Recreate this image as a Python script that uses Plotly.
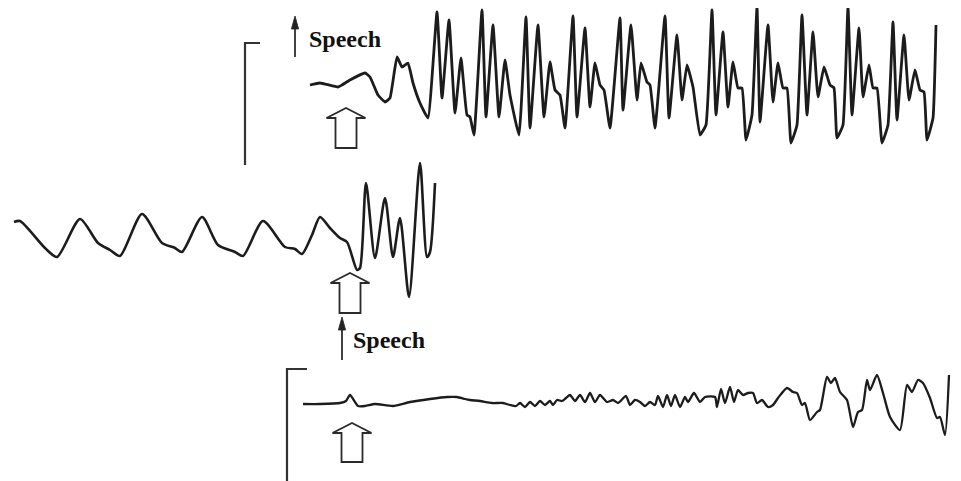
import plotly.graph_objects as go

# ---- Data (time in px-units, level in px-units, y down) ----
top_t = [310, 320, 338, 342, 350, 365, 370, 378, 385, 390,
         397, 402, 408, 413, 420, 428, 437, 442, 449, 455,
         461, 467, 470, 474, 482, 486, 493, 499, 505, 510,
         519, 526, 530, 538, 544, 550, 555, 560, 565, 573,
         577, 585, 590, 595, 600, 604, 610, 620, 623, 631,
         637, 641, 647, 650, 655, 665, 669, 677, 682, 687,
         693, 700, 706, 712, 716, 723, 728, 733, 738, 742,
         746, 752, 757, 760, 768, 773, 778, 783, 787, 791,
         797, 802, 807, 813, 818, 824, 830, 834, 837, 843,
         848, 852, 859, 863, 869, 873, 877, 882, 888, 893,
         897, 904, 909, 915, 920, 924, 927, 933, 936]
top_v = [85, 83, 87, 85, 80, 73, 77, 95, 102, 98,
         57, 67, 63, 83, 103, 118, 12, 98, 20, 113,
         58, 115, 117, 135, 10, 117, 25, 117, 60, 95,
         135, 17, 128, 25, 117, 62, 90, 95, 128, 16,
         117, 28, 107, 63, 85, 90, 128, 18, 110, 25,
         100, 63, 82, 85, 128, 16, 118, 35, 100, 65,
         87, 135, 125, 10, 115, 32, 107, 62, 88, 88,
         140, 115, 7, 122, 25, 102, 63, 88, 88, 143,
         125, 15, 115, 32, 97, 67, 85, 88, 138, 125,
         7, 115, 28, 97, 65, 88, 88, 143, 125, 22,
         120, 35, 100, 70, 90, 92, 140, 118, 25]

mid_t = [14, 20, 45, 57, 80, 98, 110, 120, 142, 162,
         175, 182, 202, 218, 235, 243, 263, 285, 295, 302,
         312, 320, 330, 340, 347, 357, 360, 366, 375, 385,
         393, 400, 409, 420, 427, 430, 435]
mid_v = [222, 221, 248, 257, 219, 243, 250, 256, 214, 243,
         248, 252, 217, 245, 252, 256, 221, 247, 249, 254,
         235, 217, 228, 238, 242, 270, 268, 183, 258, 198,
         257, 218, 297, 163, 257, 252, 183]

bot_t = [303, 320, 340, 346, 350, 355, 358, 365, 375, 393,
         410, 430, 447, 457, 465, 470, 480, 492, 503, 510,
         516, 520, 525, 530, 535, 540, 545, 550, 553, 557,
         562, 566, 570, 575, 580, 585, 590, 595, 600, 607,
         613, 618, 626, 630, 635, 640, 645, 650, 655, 658,
         663, 667, 671, 675, 680, 685, 688, 694, 700, 705,
         715, 717, 721, 725, 730, 734, 738, 743, 748, 753,
         757, 762, 768, 773, 778, 787, 793, 797, 802, 805,
         810, 817, 820, 827, 831, 835, 840, 847, 853, 858,
         862, 867, 870, 877, 883, 890, 900, 907, 912, 918,
         923, 930, 937, 940, 945, 949]
bot_v = [404, 404, 403, 401, 395, 402, 406, 406, 404, 406,
         402, 399, 397, 397, 399, 400, 401, 403, 403, 405,
         406, 403, 407, 402, 406, 401, 405, 401, 405, 400,
         401, 398, 395, 401, 395, 402, 393, 402, 395, 402,
         400, 403, 396, 405, 400, 402, 406, 402, 405, 396,
         407, 395, 406, 395, 407, 397, 402, 393, 402, 397,
         397, 407, 389, 403, 387, 402, 390, 395, 393, 393,
         403, 400, 407, 405, 398, 388, 392, 393, 405, 403,
         420, 412, 410, 377, 383, 378, 392, 400, 427, 412,
         410, 380, 390, 375, 393, 417, 430, 385, 392, 380,
         383, 398, 418, 417, 435, 375]

label_text = "Speech"

PAGE_W, PAGE_H = 961, 481
BODY = 8  # default page body margin
W, H = PAGE_W - BODY, PAGE_H - BODY
INK = "#1c1c1c"

fig = go.Figure()
for t, v, sm, lw in [(top_t, top_v, 0.35, 2.8), (mid_t, mid_v, 0.7, 2.6),
                     (bot_t, bot_v, 0.6, 2.3)]:
    fig.add_trace(go.Scatter(x=t, y=v, mode="lines",
                             line=dict(color=INK, width=lw, shape="spline", smoothing=sm),
                             hoverinfo="skip"))

shapes = []
# brackets
shapes.append(dict(type="path", path="M 245,165 L 245,43 L 260,43",
                   line=dict(color="#333", width=2.2), xref="x", yref="y"))
shapes.append(dict(type="path", path="M 287,481 L 287,369 L 307,369",
                   line=dict(color="#333", width=2.2), xref="x", yref="y"))

def hollow_arrow(cx, tip, wing_y, half_w, half_s, bottom):
    return (f"M {cx-half_s},{bottom} L {cx-half_s},{wing_y} L {cx-half_w},{wing_y} "
            f"L {cx},{tip} L {cx+half_w},{wing_y} L {cx+half_s},{wing_y} L {cx+half_s},{bottom} Z")

for cx, tip, wy, bottom in [(346, 108, 118, 148), (350, 273, 283, 313), (352, 423, 433, 462)]:
    shapes.append(dict(type="path", path=hollow_arrow(cx, tip, wy, 19.5, 10.5, bottom),
                       line=dict(color="#2a2a2a", width=1.8), fillcolor="white",
                       xref="x", yref="y"))

annotations = []
for ax_x, tip_y, tail_y, tx, ty in [(295, 16, 57, 307, 39), (342, 317, 360, 351, 340)]:
    # thin shaft
    shapes.append(dict(type="line", x0=ax_x, x1=ax_x, y0=tail_y, y1=tip_y + 8,
                       line=dict(color="#222", width=1.7), xref="x", yref="y"))
    # narrow filled head
    shapes.append(dict(type="path",
                       path=f"M {ax_x},{tip_y} L {ax_x-3.6},{tip_y+13} L {ax_x+3.6},{tip_y+13} Z",
                       line=dict(color="#222", width=0.8), fillcolor="#222",
                       xref="x", yref="y"))
    annotations.append(dict(x=tx, y=ty, xref="x", yref="y", text=f"<b>{label_text}</b>",
                            showarrow=False, xanchor="left", yanchor="middle",
                            font=dict(family="Liberation Serif, Times New Roman, serif",
                                      size=24, color="#111")))

fig.update_layout(
    width=W, height=H, margin=dict(l=0, r=0, t=0, b=0),
    paper_bgcolor="white", plot_bgcolor="white", showlegend=False,
    xaxis=dict(range=[BODY, PAGE_W], visible=False, fixedrange=True),
    yaxis=dict(range=[PAGE_H, BODY], visible=False, fixedrange=True),
    shapes=shapes, annotations=annotations,
)

fig.write_html("out.html")
